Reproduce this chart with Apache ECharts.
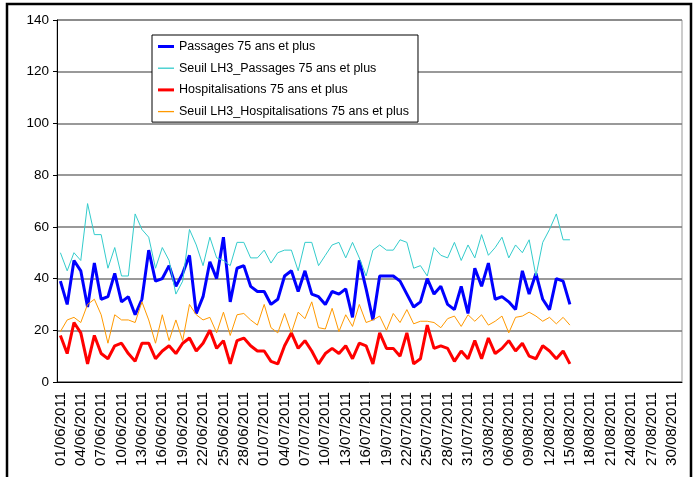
<!DOCTYPE html>
<html>
<head>
<meta charset="utf-8">
<script src="https://cdn.jsdelivr.net/npm/echarts@6/dist/echarts.min.js"></script>
<style>
  html, body { margin: 0; padding: 0; background: #fff; }
  #chart { width: 697px; height: 477px; }
</style>
</head>
<body>
<div id="chart"></div>
<script>
// jours du 01/06/2011 au 31/08/2011
var months = ['06', '07', '08'];
var monthDays = [30, 31, 31];
var days = [];
for (var m = 0; m < months.length; m++) {
  for (var d = 1; d <= monthDays[m]; d++) {
    days.push((d < 10 ? '0' + d : '' + d) + '/' + months[m] + '/2011');
  }
}

var passages = [39,30,47,43,29,46,32,33,42,31,33,26,32,51,39,40,45,37,42,49,26.5,33,46.5,40,56,31,44,
  45,37,35,35,30,32,41,43,35,43,34,33,30,35,34,36,25,47,36,24,41,41,41,39,34,29,31,
  40,34,37,30,28,37,26.5,44,37,46,32,33,31,28,43,34,42,32,28,40,39,30];
var seuilPassages = [50,43,50,47,69,57,57,44,52,41,41,65,59,56,44,52,47,34,39,59,53,45,56,48,47,45,54,
  54,48,48,51,46,50,51,51,43,54,54,45,49,53,54,48,54,48,41,51,53,51,51,55,54,44,45,
  41,52,49,48,54,47,53,48,57,49,52,56,48,53,50,55,41,54,59,65,55,55];
var hospit = [18,11,23,19,7,18,11,9,14,15,11,8,15,15,9,12,14,11,15,17,12,15,20,13,16,7,16,
  17,14,12,12,8,7,14,19,13,16,12,7,11,13,11,14,9,15,14,7,19,13,13,10,19,7,9,
  22,13,14,13,8,12,9,16,9,17,11,13,16,12,15,10,9,14,12,9,12,7];
var seuilHospit = [19.5,24,25,23,30,32,26,15,26,24,24,23,31,24,15,26,16,24,16,30,26,24,25,19,27,18,26,
  26.5,24,22,30,21,19,26.5,19,27,24.5,31,21,20.5,28.5,19.5,26,21.5,30,23,24,25.5,20,26.5,23,28,22.5,23.5,
  23.5,23,21,24.5,25.5,21.5,26,23.5,26,22,23.5,25.5,19,25,25.5,27,25.5,23.5,25,22.5,25,22];

var chart = echarts.init(document.getElementById('chart'));
var font = 'Liberation Sans, Arial, sans-serif';
var iconThick = 'path://M0,0H16V3H0Z';
var iconThin = 'path://M0,0H16V1.3H0Z';

function serie(name, data, color, width) {
  return {
    name: name,
    type: 'line',
    data: data,
    symbol: 'none',
    showSymbol: false,
    animation: false,
    lineStyle: { color: color, width: width },
    itemStyle: { color: color }
  };
}

var option = {
  animation: false,
  backgroundColor: '#fff',
  textStyle: { fontFamily: font },
  graphic: [{
    type: 'rect',
    shape: { x: 7, y: 4, width: 684, height: 500 },
    style: { fill: 'none', stroke: '#000', lineWidth: 2.5 },
    z: -1
  }],
  grid: {
    left: 57, right: 15, top: 20, bottom: 95,
    show: true, borderColor: '#999', borderWidth: 1
  },
  legend: {
    orient: 'vertical',
    left: 152, top: 35,
    backgroundColor: '#fff',
    borderColor: '#000',
    borderWidth: 1,
    padding: [5, 9, 4, 6],
    itemWidth: 16,
    itemHeight: 14,
    itemGap: 8.7,
    symbolKeepAspect: true,
    itemStyle: { borderWidth: 0 },
    textStyle: { fontFamily: font, fontSize: 12.5, color: '#000' },
    data: [
      { name: 'Passages 75 ans et plus', icon: iconThick },
      { name: 'Seuil LH3_Passages 75 ans et plus', icon: iconThin },
      { name: 'Hospitalisations 75 ans et plus', icon: iconThick },
      { name: 'Seuil LH3_Hospitalisations 75 ans et plus', icon: iconThin }
    ]
  },
  xAxis: {
    type: 'category',
    data: days,
    boundaryGap: true,
    axisLine: { lineStyle: { color: '#000', width: 1 } },
    axisTick: { interval: 2, length: 5, lineStyle: { color: '#000' } },
    axisLabel: {
      interval: 2, rotate: 90, margin: 10,
      fontFamily: font, fontSize: 15, color: '#000'
    },
    splitLine: { show: false }
  },
  yAxis: {
    type: 'value',
    min: 0, max: 140, interval: 20,
    axisLine: { show: true, lineStyle: { color: '#000', width: 1 } },
    axisTick: { show: true, length: 4, lineStyle: { color: '#000' } },
    axisLabel: { margin: 8, fontFamily: font, fontSize: 13.5, color: '#000' },
    splitLine: { lineStyle: { color: '#777', width: 1.5 } }
  },
  series: [
    serie('Passages 75 ans et plus', passages, '#0000FF', 3),
    serie('Seuil LH3_Passages 75 ans et plus', seuilPassages, '#33CCCC', 1),
    serie('Hospitalisations 75 ans et plus', hospit, '#FF0000', 3),
    serie('Seuil LH3_Hospitalisations 75 ans et plus', seuilHospit, '#FF9900', 1)
  ]
};
chart.setOption(option);
</script>
</body>
</html>
